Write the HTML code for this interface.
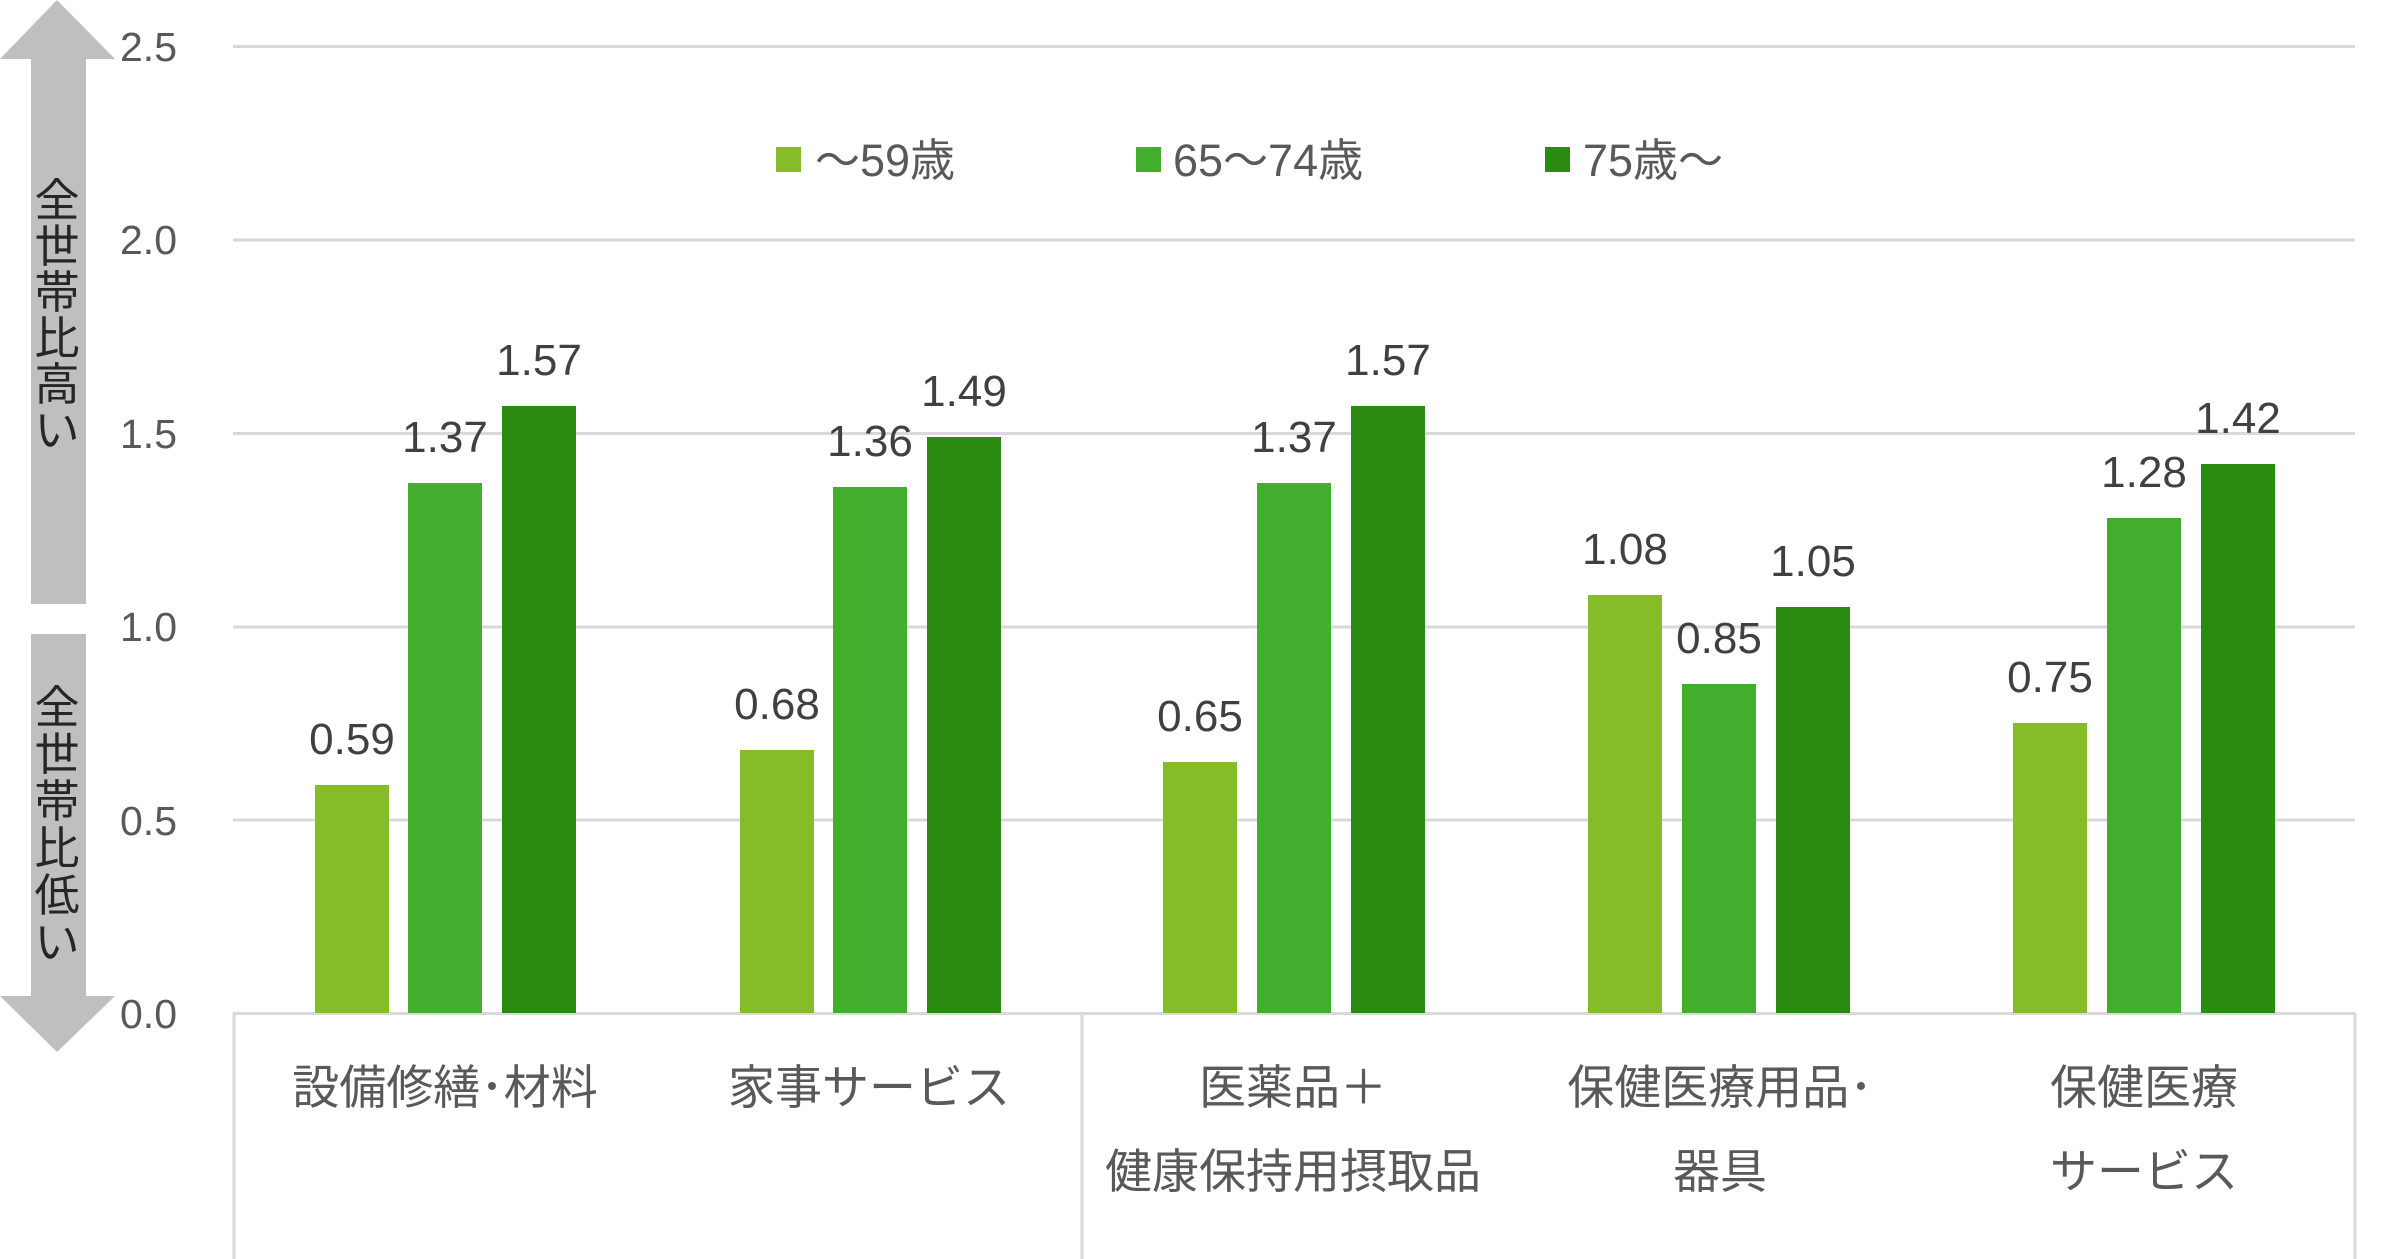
<!DOCTYPE html>
<html><head><meta charset="utf-8"><style>
html,body{margin:0;padding:0;background:#fff;}
svg{display:block;}
text{font-family:"Liberation Sans","Noto Sans CJK JP",sans-serif;}
</style></head><body>
<svg width="2400" height="1259" viewBox="0 0 2400 1259" xmlns="http://www.w3.org/2000/svg">
<g stroke="#d9d9d9" stroke-width="3">
<line x1="233" y1="46.5" x2="2355" y2="46.5"/>
<line x1="233" y1="240" x2="2355" y2="240"/>
<line x1="233" y1="433.5" x2="2355" y2="433.5"/>
<line x1="233" y1="627" x2="2355" y2="627"/>
<line x1="233" y1="820" x2="2355" y2="820"/>
<line x1="233" y1="1013.5" x2="2355" y2="1013.5"/>
<line x1="234" y1="1013" x2="234" y2="1259"/>
<line x1="1082" y1="1013" x2="1082" y2="1259"/>
<line x1="2355" y1="1013" x2="2355" y2="1259"/>
</g>
<g font-size="41" fill="#595959" text-anchor="end">
<text x="177" y="61">2.5</text>
<text x="177" y="254">2.0</text>
<text x="177" y="448">1.5</text>
<text x="177" y="641">1.0</text>
<text x="177" y="835">0.5</text>
<text x="177" y="1028">0.0</text>
</g>
<polygon fill="#bfbfbf" points="57,0 115,59 86,59 86,604 31,604 31,59 0,59"/>
<polygon fill="#bfbfbf" points="31,634 86,634 86,996 115,996 57,1052 0,996 31,996"/>
<g font-size="45" fill="#262626" text-anchor="middle">
<text x="57" y="216">全</text><text x="57" y="262">世</text><text x="57" y="308">帯</text><text x="57" y="354">比</text><text x="57" y="400">高</text><text x="57" y="446">い</text>
<text x="57" y="723">全</text><text x="57" y="770">世</text><text x="57" y="817">帯</text><text x="57" y="864">比</text><text x="57" y="911">低</text><text x="57" y="958">い</text>
</g>
<g>
<rect x="315" y="785" width="74" height="228" fill="#86bc28"/>
<rect x="408" y="483" width="74" height="530" fill="#43ae2e"/>
<rect x="502" y="406" width="74" height="607" fill="#2a8a12"/>
<rect x="740" y="750" width="74" height="263" fill="#86bc28"/>
<rect x="833" y="487" width="74" height="526" fill="#43ae2e"/>
<rect x="927" y="437" width="74" height="576" fill="#2a8a12"/>
<rect x="1163" y="762" width="74" height="251" fill="#86bc28"/>
<rect x="1257" y="483" width="74" height="530" fill="#43ae2e"/>
<rect x="1351" y="406" width="74" height="607" fill="#2a8a12"/>
<rect x="1588" y="595" width="74" height="418" fill="#86bc28"/>
<rect x="1682" y="684" width="74" height="329" fill="#43ae2e"/>
<rect x="1776" y="607" width="74" height="406" fill="#2a8a12"/>
<rect x="2013" y="723" width="74" height="290" fill="#86bc28"/>
<rect x="2107" y="518" width="74" height="495" fill="#43ae2e"/>
<rect x="2201" y="464" width="74" height="549" fill="#2a8a12"/>
</g>
<g font-size="44" fill="#404040" text-anchor="middle">
<text x="352" y="754">0.59</text><text x="445" y="452">1.37</text><text x="539" y="375">1.57</text>
<text x="777" y="719">0.68</text><text x="870" y="456">1.36</text><text x="964" y="406">1.49</text>
<text x="1200" y="731">0.65</text><text x="1294" y="452">1.37</text><text x="1388" y="375">1.57</text>
<text x="1625" y="564">1.08</text><text x="1719" y="653">0.85</text><text x="1813" y="576">1.05</text>
<text x="2050" y="692">0.75</text><text x="2144" y="487">1.28</text><text x="2238" y="433">1.42</text>
</g>
<rect x="776" y="147" width="25" height="25" fill="#86bc28"/>
<rect x="1136" y="147" width="25" height="25" fill="#43ae2e"/>
<rect x="1545" y="147" width="25" height="25" fill="#2a8a12"/>
<g font-size="45" fill="#595959">
<text x="815" y="176">～59歳</text>
<text x="1173" y="176">65～74歳</text>
<text x="1583" y="176">75歳～</text>
</g>
<g font-size="47" fill="#595959" text-anchor="middle">
<text x="445" y="1104">設備修繕･材料</text>
<text x="869" y="1104">家事サービス</text>
<text x="1293" y="1104">医薬品＋</text>
<text x="1293" y="1188">健康保持用摂取品</text>
<text x="1720" y="1104">保健医療用品･</text>
<text x="1720" y="1188">器具</text>
<text x="2144" y="1104">保健医療</text>
<text x="2144" y="1188">サービス</text>
</g>
</svg>
</body></html>
